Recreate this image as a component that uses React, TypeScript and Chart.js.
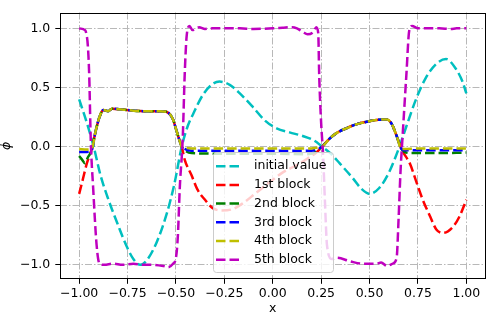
import React, { useEffect, useRef } from 'react';
import { Chart, registerables } from 'chart.js';

Chart.register(...registerables);

const xTicks = [-1, -0.75, -0.5, -0.25, 0, 0.25, 0.5, 0.75, 1];
const yTicks = [-1, -0.5, 0, 0.5, 1];

const seriesLabels = ['initial value', '1st block', '2nd block', '3rd block', '4th block', '5th block'];
const seriesColors = ['#00bfbf', '#ff0000', '#008000', '#0000ff', '#bfbf00', '#bf00bf'];

// initial value
const initX = [-1, -0.96, -0.925, -0.89, -0.855, -0.8, -0.75, -0.72, -0.685, -0.65, -0.6, -0.55, -0.51, -0.47, -0.44, -0.41, -0.36, -0.31, -0.275, -0.22, -0.17, -0.1, -0.04, 0.02, 0.087, 0.155, 0.215, 0.255, 0.3, 0.345, 0.41, 0.46, 0.5, 0.55, 0.6, 0.65, 0.69, 0.74, 0.79, 0.845, 0.895, 0.945, 0.98, 1.0];
const initY = [0.4, 0.2, 0.0, -0.24, -0.42, -0.66, -0.86, -0.95, -1.0, -0.96, -0.81, -0.58, -0.33, 0.0, 0.17, 0.28, 0.44, 0.53, 0.55, 0.52, 0.45, 0.33, 0.22, 0.155, 0.12, 0.09, 0.05, 0.0, -0.06, -0.14, -0.26, -0.36, -0.4, -0.35, -0.22, -0.02, 0.17, 0.4, 0.58, 0.7, 0.74, 0.66, 0.55, 0.45];

// shared plateaus of blocks 1-4
const plateau1X = [-0.915, -0.895, -0.875, -0.85, -0.83, -0.755, -0.67, -0.585, -0.55, -0.515, -0.5, -0.485, -0.47];
const plateau1Y = [0.13, 0.25, 0.31, 0.3, 0.32, 0.31, 0.3, 0.3, 0.295, 0.23, 0.15, 0.07, 0.0];
const plateau2X = [0.255, 0.295, 0.335, 0.38, 0.435, 0.485, 0.535, 0.59, 0.615, 0.64, 0.665];
const plateau2Y = [0.0, 0.07, 0.12, 0.155, 0.19, 0.21, 0.225, 0.23, 0.19, 0.09, -0.02];

// 1st block
const b1StartX = [-1, -0.98, -0.96, -0.935];
const b1StartY = [-0.4, -0.27, -0.14, -0.02];
const b1MidX = [-0.455, -0.42, -0.39, -0.35, -0.31, -0.265, -0.21, -0.155, -0.085, -0.015, 0.05, 0.12, 0.18, 0.225];
const b1MidY = [-0.11, -0.24, -0.36, -0.45, -0.52, -0.54, -0.53, -0.48, -0.39, -0.3, -0.22, -0.16, -0.1, -0.05];
const b1EndX = [0.71, 0.74, 0.775, 0.81, 0.845, 0.88, 0.93, 0.965, 1.0];
const b1EndY = [-0.15, -0.29, -0.45, -0.58, -0.7, -0.73, -0.68, -0.59, -0.45];

// 2nd block
const b2StartX = [-1, -0.985, -0.97, -0.955, -0.935];
const b2StartY = [-0.08, -0.11, -0.14, -0.09, -0.03];
const b2MidX = [-0.455, -0.42, -0.2, 0.0, 0.17, 0.215];
const b2MidY = [-0.03, -0.055, -0.06, -0.06, -0.065, -0.05];
const b2EndX = [0.68, 0.72, 0.85, 1.0];
const b2EndY = [-0.045, -0.055, -0.055, -0.05];

// 3rd block
const b3StartX = [-1, -0.96, -0.935];
const b3StartY = [-0.045, -0.045, -0.03];
const b3MidX = [-0.455, -0.42, 0.2, 0.225];
const b3MidY = [-0.02, -0.035, -0.035, -0.025];
const b3EndX = [0.68, 0.75, 1.0];
const b3EndY = [-0.03, -0.03, -0.03];

// 4th block
const b4StartX = [-1, -0.96, -0.935];
const b4StartY = [-0.02, -0.025, -0.02];
const b4MidX = [-0.455, -0.42, 0.2, 0.225];
const b4MidY = [-0.01, -0.015, -0.015, -0.01];
const b4EndX = [0.68, 0.75, 1.0];
const b4EndY = [-0.02, -0.015, -0.015];

// 5th block
const b5X = [-1, -0.97, -0.965, -0.955, -0.948, -0.94, -0.928, -0.91, -0.895, -0.87, -0.825, -0.775, -0.72, -0.67, -0.62, -0.565, -0.54, -0.515, -0.5, -0.49, -0.48, -0.465, -0.455, -0.445, -0.43, -0.415, -0.38, -0.35, -0.31, -0.25, -0.17, -0.1, 0.0, 0.05, 0.1, 0.125, 0.155, 0.18, 0.21, 0.225, 0.235, 0.24, 0.25, 0.26, 0.27, 0.28, 0.305, 0.33, 0.4, 0.465, 0.535, 0.56, 0.59, 0.62, 0.64, 0.65, 0.66, 0.67, 0.69, 0.705, 0.72, 0.75, 0.86, 0.92, 0.95, 1.0];
const b5Y = [1.0, 0.985, 0.97, 0.85, 0.6, 0.05, -0.34, -0.83, -0.99, -1.0, -0.99, -1.0, -0.99, -1.0, -1.0, -1.01, -1.02, -0.99, -0.94, -0.75, -0.34, 0.07, 0.6, 0.93, 1.02, 0.985, 1.01, 0.995, 1.0, 1.0, 1.0, 0.995, 1.0, 1.005, 1.01, 1.0, 0.97, 0.95, 0.97, 1.01, 0.96, 0.6, 0.2, -0.07, -0.48, -0.83, -0.95, -0.94, -0.97, -0.99, -0.99, -0.98, -1.01, -0.99, -0.94, -0.61, -0.21, 0.07, 0.6, 0.98, 1.02, 1.0, 1.0, 0.995, 1.0, 1.0];

const pts = (xs: number[], ys: number[]) => xs.map((x, i) => ({ x, y: ys[i] }));

const seriesData = [
  pts(initX, initY),
  [...pts(b1StartX, b1StartY), ...pts(plateau1X, plateau1Y), ...pts(b1MidX, b1MidY), ...pts(plateau2X, plateau2Y), ...pts(b1EndX, b1EndY)],
  [...pts(b2StartX, b2StartY), ...pts(plateau1X, plateau1Y), ...pts(b2MidX, b2MidY), ...pts(plateau2X, plateau2Y), ...pts(b2EndX, b2EndY)],
  [...pts(b3StartX, b3StartY), ...pts(plateau1X, plateau1Y), ...pts(b3MidX, b3MidY), ...pts(plateau2X, plateau2Y), ...pts(b3EndX, b3EndY)],
  [...pts(b4StartX, b4StartY), ...pts(plateau1X, plateau1Y), ...pts(b4MidX, b4MidY), ...pts(plateau2X, plateau2Y), ...pts(b4EndX, b4EndY)],
  pts(b5X, b5Y),
];

const FONT = 'DejaVu Sans';
const FS = 12.5;
const LINE_W = 2.5;
const DASH = [9.5, 4];

const fmt = (v: number, d: number) => {
  const s = Math.abs(v).toFixed(d);
  return v < -1e-9 ? '\u2212' + s : s;
};

const framePlugin = {
  id: 'mplFrameLegend',
  afterDatasetsDraw(chart: any) {
    const ctx = chart.ctx as CanvasRenderingContext2D;
    const a = chart.chartArea;
    ctx.save();
    ctx.setLineDash([]);
    ctx.strokeStyle = '#000000';
    ctx.lineWidth = 1;
    const l = Math.round(a.left) + 0.5;
    const t = Math.round(a.top) + 0.5;
    const r = Math.round(a.right) - 0.5;
    const b = Math.round(a.bottom) - 0.5;
    ctx.strokeRect(l, t, r - l, b - t);

    // legend
    const bx = 213.5, by = 152.5, bw = 120, bh = 120, rad = 3;
    ctx.beginPath();
    ctx.moveTo(bx + rad, by);
    ctx.lineTo(bx + bw - rad, by);
    ctx.arcTo(bx + bw, by, bx + bw, by + rad, rad);
    ctx.lineTo(bx + bw, by + bh - rad);
    ctx.arcTo(bx + bw, by + bh, bx + bw - rad, by + bh, rad);
    ctx.lineTo(bx + rad, by + bh);
    ctx.arcTo(bx, by + bh, bx, by + bh - rad, rad);
    ctx.lineTo(bx, by + rad);
    ctx.arcTo(bx, by, bx + rad, by, rad);
    ctx.closePath();
    ctx.fillStyle = 'rgba(255,255,255,0.8)';
    ctx.fill();
    ctx.strokeStyle = '#cccccc';
    ctx.lineWidth = 1;
    ctx.stroke();

    ctx.font = `${FS}px "${FONT}"`;
    ctx.textBaseline = 'middle';
    ctx.textAlign = 'left';
    seriesLabels.forEach((lab, i) => {
      const y = 166.2 + i * 18.7;
      ctx.beginPath();
      ctx.setLineDash(DASH);
      ctx.lineDashOffset = 0;
      ctx.strokeStyle = seriesColors[i];
      ctx.lineWidth = LINE_W;
      ctx.moveTo(216, y);
      ctx.lineTo(241, y);
      ctx.stroke();
      ctx.setLineDash([]);
      ctx.fillStyle = '#000000';
      ctx.fillText(lab, 254, y);
    });
    ctx.restore();
  },
};

export default function App() {
  const ref = useRef<HTMLCanvasElement | null>(null);
  useEffect(() => {
    if (!ref.current) return;
    const gridCommon = {
      color: '#b8b8b8',
      lineWidth: 1,
      drawTicks: true,
      tickLength: 4.5,
      tickColor: '#000000',
      tickWidth: 1,
      tickBorderDash: [],
    };
    const borderCommon = { display: false, dash: [7, 2, 1.5, 2] };
    const chart = new Chart(ref.current, {
      type: 'line',
      data: {
        datasets: seriesData.map((d, i) => ({
          label: seriesLabels[i],
          data: d,
          borderColor: seriesColors[i],
          backgroundColor: seriesColors[i],
          borderWidth: LINE_W,
          borderDash: DASH,
          pointRadius: 0,
          fill: false,
          cubicInterpolationMode: 'monotone' as const,
          order: 6 - i,
        })),
      },
      options: {
        animation: false,
        responsive: false,
        devicePixelRatio: 1,
        layout: { padding: { top: 1.5, right: 2.3, left: 0, bottom: 0 } },
        plugins: { legend: { display: false }, tooltip: { enabled: false } },
        scales: {
          x: {
            type: 'linear',
            min: -1.1,
            max: 1.1,
            afterBuildTicks: (s: any) => { s.ticks = xTicks.map((v) => ({ value: v })); },
            afterFit: (s: any) => { s.height = 34.7; },
            ticks: {
              autoSkip: false,
              maxRotation: 0,
              padding: 2,
              color: '#000000',
              font: { family: FONT, size: FS },
              callback: (v: any) => fmt(Number(v), 2),
            },
            grid: gridCommon,
            border: borderCommon,
            title: {
              display: true,
              text: 'x',
              color: '#000000',
              font: { family: FONT, size: FS },
              padding: { top: 0, bottom: -2 },
            },
          },
          y: {
            type: 'linear',
            min: -1.122,
            max: 1.134,
            afterBuildTicks: (s: any) => { s.ticks = yTicks.map((v) => ({ value: v })); },
            afterFit: (s: any) => { s.width = 59.8; },
            ticks: {
              autoSkip: false,
              padding: 5,
              color: '#000000',
              font: { family: FONT, size: FS },
              callback: (v: any) => fmt(Number(v), 1),
            },
            grid: gridCommon,
            border: borderCommon,
            title: {
              display: true,
              text: '\u03d5',
              color: '#000000',
              font: { family: FONT, size: FS, style: 'italic' },
              padding: { top: -0.5, bottom: 0 },
            },
          },
        },
      },
      plugins: [framePlugin],
    } as any);
    return () => chart.destroy();
  }, []);
  return (
    <div style={{ position: 'fixed', left: 0, top: 0, width: 488, height: 314, background: '#ffffff' }}>
      <canvas ref={ref} width={488} height={314} style={{ width: 488, height: 314, display: 'block' }} />
    </div>
  );
}
